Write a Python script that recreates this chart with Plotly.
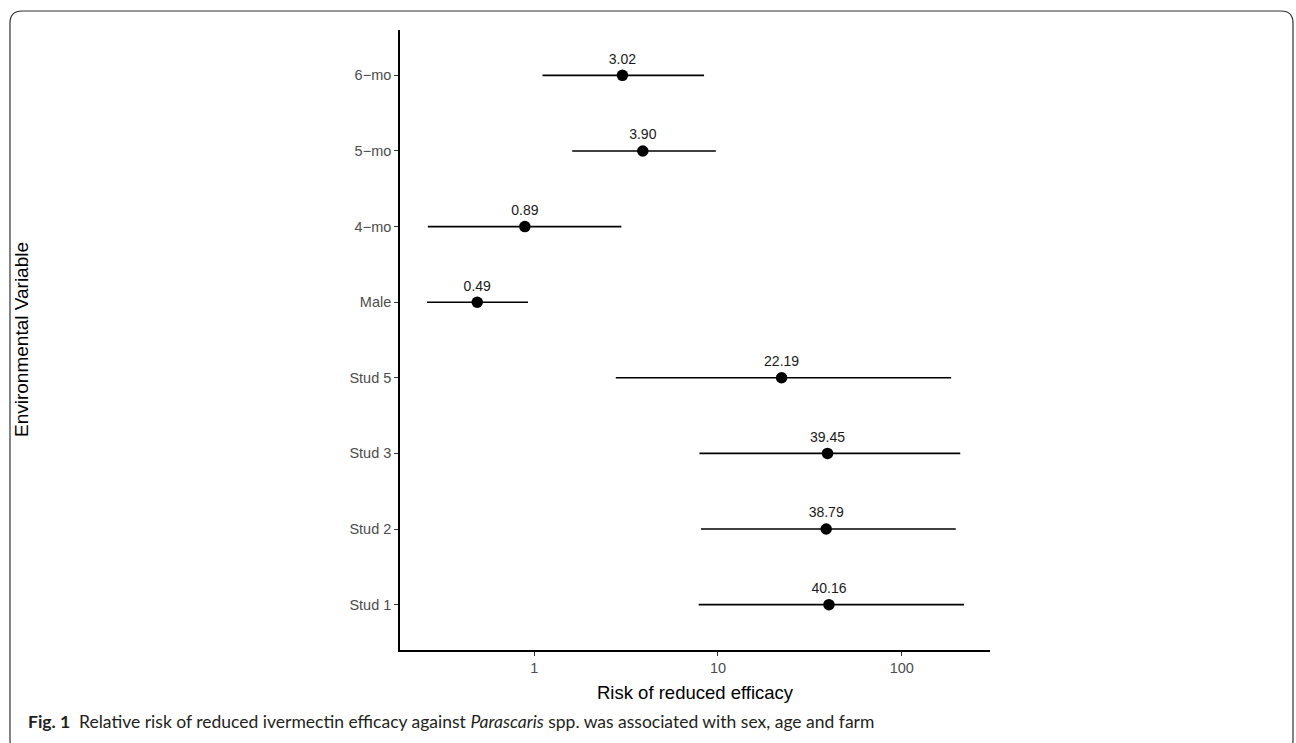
import plotly.graph_objects as go

categories = ["Stud 1", "Stud 2", "Stud 3", "Stud 5", "Male", "4\u2212mo", "5\u2212mo", "6\u2212mo"]
estimates = [40.16, 38.79, 39.45, 22.19, 0.49, 0.89, 3.90, 3.02]
lower_ci = [7.85, 8.08, 7.93, 2.78, 0.261, 0.264, 1.61, 1.11]
upper_ci = [218.0, 196.7, 208.0, 185.6, 0.926, 2.98, 9.74, 8.40]
labels = [f"{v:.2f}" for v in estimates]

W, H = 1296, 743
ML, MR, MT, MB = 400, 306, 30, 93
PW, PH = W - ML - MR, H - MT - MB


def px(x):
    return (x - ML) / PW


def py(y):
    return (H - MB - y) / PH


fig = go.Figure()

fig.add_trace(go.Scatter(
    x=estimates, y=categories,
    mode="markers+text",
    marker=dict(color="black", size=11.5),
    text=labels, textposition="top center",
    textfont=dict(family="Liberation Sans, Arial, sans-serif", size=14, color="#1a1a1a"),
    error_x=dict(
        type="data", symmetric=False,
        array=[u - e for u, e in zip(upper_ci, estimates)],
        arrayminus=[e - l for e, l in zip(estimates, lower_ci)],
        color="black", thickness=1.6, width=0,
    ),
    showlegend=False, cliponaxis=False,
))

# rounded frame
r = 12
x0, x1, y0, y1 = 10, 1293, 11, 752
path = (
    f"M {px(x0)} {py(y1 - r)} L {px(x0)} {py(y0 + r)} "
    f"Q {px(x0)} {py(y0)} {px(x0 + r)} {py(y0)} "
    f"L {px(x1 - r)} {py(y0)} Q {px(x1)} {py(y0)} {px(x1)} {py(y0 + r)} "
    f"L {px(x1)} {py(y1 - r)} Q {px(x1)} {py(y1)} {px(x1 - r)} {py(y1)} "
    f"L {px(x0 + r)} {py(y1)} Q {px(x0)} {py(y1)} {px(x0)} {py(y1 - r)} Z"
)

shapes = [
    dict(type="path", xref="paper", yref="paper", path=path,
         line=dict(color="#333333", width=1.2), layer="below"),
    dict(type="line", xref="x", yref="paper", x0=0, x1=0, y0=0, y1=1,
         line=dict(color="#bebebe", width=1), layer="below"),
]

annotations = [
    dict(text="Risk of reduced efficacy", xref="paper", yref="paper",
         x=px(695), y=py(692), showarrow=False, xanchor="center", yanchor="middle",
         font=dict(family="Liberation Sans, Arial, sans-serif", size=18.5, color="black")),
    dict(text="Environmental Variable", xref="paper", yref="paper",
         x=px(21), y=py(340), showarrow=False, textangle=-90, xanchor="center", yanchor="middle",
         font=dict(family="Liberation Sans, Arial, sans-serif", size=19, color="black")),
    dict(text="<b>Fig. 1</b>  Relative risk of reduced ivermectin efficacy against <i>Parascaris</i> spp. was associated with sex, age and farm",
         xref="paper", yref="paper", x=px(26), y=py(721), showarrow=False,
         xanchor="left", yanchor="middle",
         font=dict(family="Lato, sans-serif", size=17.5, color="#231f20")),
]

fig.update_layout(
    width=W, height=H,
    margin=dict(l=ML, r=MR, t=MT, b=MB, autoexpand=False),
    paper_bgcolor="white", plot_bgcolor="white",
    shapes=shapes, annotations=annotations,
    xaxis=dict(
        type="log", range=[-0.73, 2.48],
        tickvals=[1, 10, 100], ticktext=["1", "10", "100"],
        showgrid=False, zeroline=False,
        showline=True, linecolor="black", linewidth=1.6,
        ticks="outside", ticklen=4, tickcolor="#333333", tickwidth=1.2,
        tickfont=dict(family="Liberation Sans, Arial, sans-serif", size=14.5, color="#4d4d4d"),
    ),
    yaxis=dict(
        type="category", categoryorder="array", categoryarray=categories,
        range=[-0.6, len(categories) - 0.4],
        showgrid=False, zeroline=False,
        showline=True, linecolor="black", linewidth=1.6,
        ticks="outside", ticklen=4, tickcolor="#333333", tickwidth=1.2,
        tickfont=dict(family="Liberation Sans, Arial, sans-serif", size=14.5, color="#4d4d4d"),
    ),
)

fig.write_html("out.html", config={"displayModeBar": False},
               post_script="document.body.style.margin='0px';document.body.style.overflow='hidden';")
